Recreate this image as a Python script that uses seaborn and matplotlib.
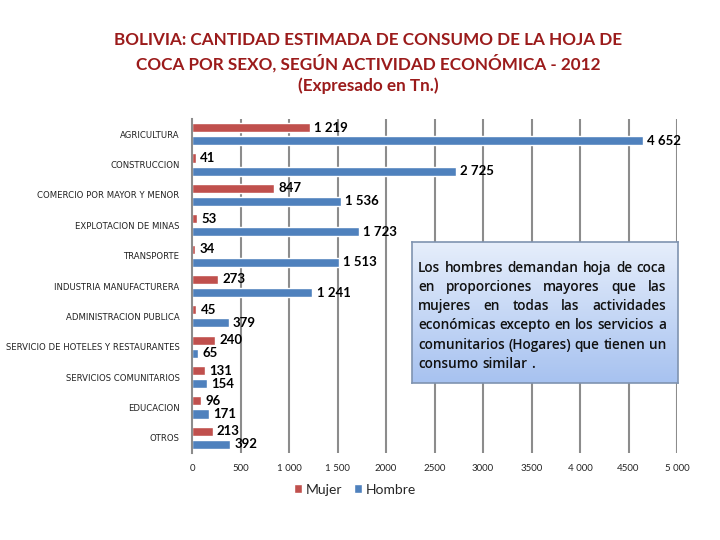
import numpy as np
import pandas as pd
import matplotlib
matplotlib.use("Agg")
import matplotlib.pyplot as plt
import seaborn as sns

# datos (Tn.)
actividades = [
    "AGRICULTURA", "CONSTRUCCION", "COMERCIO POR MAYOR Y MENOR",
    "EXPLOTACION DE MINAS", "TRANSPORTE", "INDUSTRIA MANUFACTURERA",
    "ADMINISTRACION PUBLICA", "SERVICIO DE HOTELES Y RESTAURANTES",
    "SERVICIOS COMUNITARIOS", "EDUCACION", "OTROS",
]
mujer = [1219, 41, 847, 53, 34, 273, 45, 240, 131, 96, 213]
hombre = [4652, 2725, 1536, 1723, 1513, 1241, 379, 65, 154, 171, 392]
sexos = ["Mujer", "Hombre"]
xticks = [0, 500, 1000, 1500, 2000, 2500, 3000, 3500, 4000, 4500, 5000]
xtick_labels = ["0", "500", "1 000", "1 500", "2000", "2500", "3000",
                "3500", "4 000", "4500", "5 000"]

titulo = ("BOLIVIA: CANTIDAD ESTIMADA DE CONSUMO DE LA HOJA DE\n"
          "COCA POR SEXO, SEGÚN ACTIVIDAD ECONÓMICA - 2012\n"
          "(Expresado en Tn.)")
nota = [
    "Los hombres demandan hoja de coca",
    "en proporciones mayores que las",
    "mujeres en todas las actividades",
    "económicas excepto en los servicios a",
    "comunitarios (Hogares) que tienen un",
    "consumo similar .",
]

df = pd.DataFrame({
    "actividad": actividades * 2,
    "valor": mujer + hombre,
    "sexo": [sexos[0]] * len(mujer) + [sexos[1]] * len(hombre),
})

sns.set_style("white")
plt.rcParams["font.family"] = ["Lato", "DejaVu Sans"]

fig = plt.figure(figsize=(7.2, 5.4), dpi=100)
ax = fig.add_axes([192 / 720, 1 - 453 / 540, 485 / 720, 334 / 540])

sns.barplot(data=df, y="actividad", x="valor", hue="sexo", orient="h",
            palette=["#C0504D", "#4F81BD"], width=0.86, gap=0.3,
            saturation=1, ax=ax)

def miles(v):
    v = int(round(v))
    return f"{v:,}".replace(",", " ")

for cont in ax.containers:
    ax.bar_label(cont, fmt=miles, padding=3, fontsize=9.5,
                 fontweight="bold", color="black")

ax.set_xlim(0, 5000)
ax.set_xticks(xticks)
ax.set_xticklabels(xtick_labels, fontsize=7)
ax.tick_params(axis="x", length=0, pad=8)
ax.tick_params(axis="y", length=0, pad=9, labelsize=6.1)
for t in ax.get_yticklabels():
    t.set_family("DejaVu Sans")
    t.set_color("#222222")
ax.set_xlabel("")
ax.set_ylabel("")
for x in xticks[1:]:
    ax.axvline(x, color="#8c8c8c", lw=1.5, zorder=0)
for s in ["top", "right", "bottom"]:
    ax.spines[s].set_visible(False)
ax.spines["left"].set_color("#8c8c8c")
ax.spines["left"].set_linewidth(1.5)

handles, labels = ax.get_legend_handles_labels()
ax.get_legend().remove()
fig.legend(handles, labels, loc="center", bbox_to_anchor=(0.493, 0.093),
           ncol=2, frameon=False, fontsize=10, handlelength=0.6,
           handleheight=0.6, handletextpad=0.3, columnspacing=0.8)

fig.text(0.511, 1 - 63 / 540, titulo, ha="center", va="center",
         fontsize=12.3, fontweight="bold", color="#9B1B1B",
         linespacing=1.35)

# caja con degradado
bx0, by0, bw, bh = 412, 242, 266, 141
box = fig.add_axes([bx0 / 720, 1 - (by0 + bh) / 540, bw / 720, bh / 540])
grad = np.linspace(0, 1, 256).reshape(-1, 1)
cmap = matplotlib.colors.LinearSegmentedColormap.from_list(
    "caja", ["#E6EEFB", "#A7C2F0"])
box.imshow(grad, aspect="auto", cmap=cmap, extent=[0, 1, 0, 1],
           origin="upper")
box.set_xlim(0, 1)
box.set_ylim(0, 1)
box.set_xticks([])
box.set_yticks([])
for s in box.spines.values():
    s.set_color("#7F93B0")
    s.set_linewidth(1.2)

# texto justificado, palabra por palabra
fig.canvas.draw()
renderer = fig.canvas.get_renderer()
left_px, right_px = 418 - bx0, 666 - bx0
line_y = [272, 291, 310, 329, 349, 368]  # linea base aprox.
for i, (linea, yp) in enumerate(zip(nota, line_y)):
    yfrac = 1 - (yp - by0) / bh
    palabras = linea.split(" ")
    items = []
    for p in palabras:
        t = box.text(0, yfrac, p, fontsize=9.8, fontweight="semibold",
                     color="#111111", va="baseline", ha="left",
                     family=["Open Sans", "DejaVu Sans"])
        items.append(t)
    widths = [t.get_window_extent(renderer).width for t in items]
    if i < len(nota) - 1 and len(items) > 1:
        espacio = (right_px - left_px - sum(widths)) / (len(items) - 1)
    else:
        espacio = 4
    x = left_px
    for t, w in zip(items, widths):
        t.set_x(x / bw)
        x += w + espacio

fig.savefig("out.png", dpi=100)
